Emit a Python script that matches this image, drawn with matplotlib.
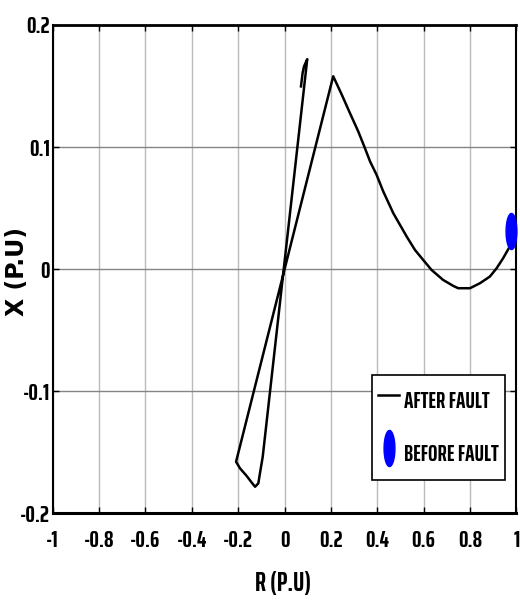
import numpy as np
import matplotlib
matplotlib.use("Agg")
import matplotlib.pyplot as plt
from matplotlib.path import Path
from matplotlib.markers import MarkerStyle

plt.rcParams['axes.unicode_minus'] = False
COND = ['Saira ExtraCondensed', 'Sofia Sans Extra Condensed', 'DejaVu Sans']
plt.rcParams['font.family'] = COND
plt.rcParams['font.weight'] = 'bold'

# After-fault impedance trajectory (R, X in p.u.)
r_after = [0.969, 0.943, 0.915, 0.886, 0.843, 0.800, 0.749, 0.728, 0.684, 0.634,
           0.598, 0.5625, 0.527, 0.498, 0.469, 0.426, 0.397, 0.369, 0.344, 0.318,
           0.282, 0.247, 0.210,
           -0.209, -0.192, -0.163, -0.141, -0.127, -0.113, -0.106, -0.094,
           0.098, 0.084, 0.078, 0.071]
x_after = [0.0177, 0.009, 0.0008, -0.006, -0.0115, -0.0156, -0.0156, -0.0137, -0.0088, -0.0006,
           0.0076, 0.0158, 0.0267, 0.0363, 0.0459, 0.0636, 0.0773, 0.0882, 0.1005, 0.1128,
           0.1279, 0.1429, 0.158,
           -0.1577, -0.1631, -0.1694, -0.1749, -0.1782, -0.1754, -0.1672, -0.1536,
           0.172, 0.166, 0.1607, 0.1497]

# Before-fault operating point
r_before = [0.978]
x_before = [0.031]

xticks = [-1, -0.8, -0.6, -0.4, -0.2, 0, 0.2, 0.4, 0.6, 0.8, 1]
xticklabels = ['-1', '-0.8', '-0.6', '-0.4', '-0.2', '0', '0.2', '0.4', '0.6', '0.8', '1']
yticks = [-0.2, -0.1, 0, 0.1, 0.2]
yticklabels = ['-0.2', '-0.1', '0', '0.1', '0.2']

# tall ellipse marker
t = np.linspace(0, 2 * np.pi, 60)
ell = Path(np.column_stack([0.30 * np.cos(t), np.sin(t)]), closed=True)
ell_marker = MarkerStyle(ell)

fig = plt.figure(figsize=(5.2, 6.09), dpi=100)
ax = fig.add_axes([0.1013, 0.157, 0.8917, 0.802])

ax.plot(r_after, x_after, color='black', lw=1.8, label='AFTER FAULT', zorder=3)
ax.plot(r_before, x_before, linestyle='none', marker=ell_marker, markersize=26,
        color='blue', markeredgecolor='blue', label='BEFORE FAULT', clip_on=False, zorder=4)

ax.set_xlim(-1, 1)
ax.set_ylim(-0.2, 0.2)
ax.set_xticks(xticks)
ax.set_xticklabels(xticklabels)
ax.set_yticks(yticks)
ax.set_yticklabels(yticklabels)

ax.xaxis.grid(True, color='#bbbbbb', lw=1.0)
ax.yaxis.grid(True, color='#858585', lw=1.0)
ax.set_axisbelow(True)

ax.tick_params(axis='both', direction='in', length=4, width=1, top=True, right=True,
               labelsize=17)
ax.tick_params(axis='x', pad=12)
ax.tick_params(axis='y', pad=2)

for s in ax.spines.values():
    s.set_color('black')
    s.set_linewidth(1.5)
ax.spines['top'].set_linewidth(2)
ax.spines['bottom'].set_linewidth(2.2)

ax.set_xlabel('R (P.U)', fontsize=19, fontweight='bold')
ax.xaxis.label.set_va('center')
ax.xaxis.set_label_coords(0.496, -0.143)
ax.set_ylabel('X (P.U)', fontsize=17, fontweight='bold',
              family=['DejaVu Sans'])
ax.yaxis.label.set_va('center')
ax.yaxis.set_label_coords(-0.077, 0.496)

leg = ax.legend(loc='upper left', bbox_to_anchor=(0.688, 0.283), fontsize=16,
                frameon=True, fancybox=False, edgecolor='black', framealpha=1,
                handlelength=0.95, handleheight=2.3, handletextpad=0.2,
                labelspacing=0.65, borderpad=0.3, borderaxespad=0)
leg.get_frame().set_linewidth(1.2)
for txt in leg.get_texts():
    txt.set_fontweight('bold')

fig.savefig('out.png', dpi=100)
